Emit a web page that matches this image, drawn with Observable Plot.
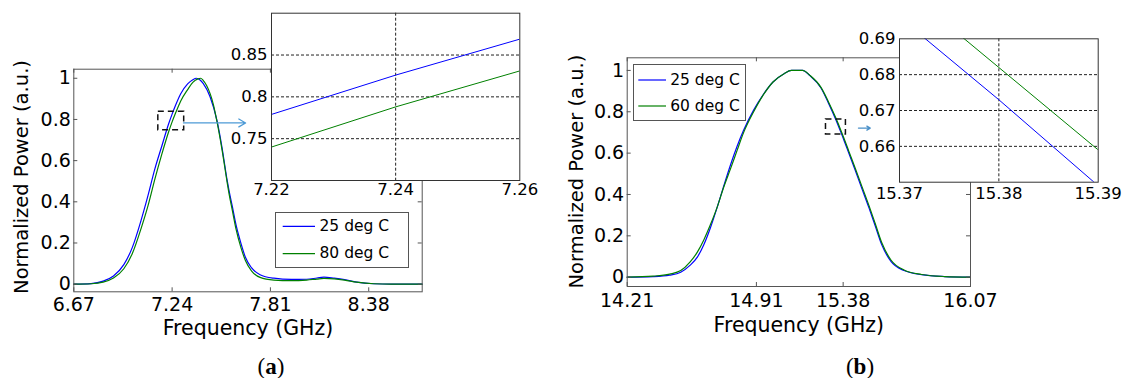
<!DOCTYPE html>
<html><head><meta charset="utf-8">
<script src="https://cdn.jsdelivr.net/npm/d3@7"></script>
<script src="https://cdn.jsdelivr.net/npm/@observablehq/plot@0.6"></script>
<style>
html,body{margin:0;padding:0;background:#fff;overflow:hidden}
#wrap{position:relative;width:1127px;height:378px;font-family:"DejaVu Sans",sans-serif;color:#000}
#wrap svg{position:absolute;left:0;top:0}
.legend{position:absolute;background:#fff;border:1.5px solid #555;box-sizing:border-box;font-size:15.5px}
.legend .row{position:absolute;left:0;white-space:nowrap}
.caption{position:absolute;font-family:"Liberation Serif",serif;font-size:23px;line-height:1;transform:translateX(-50%)}
</style></head><body><div id="wrap"></div>
<script>
// ---------- data: panel (a) ----------
const freqA25 = [6.67,6.77,6.84,6.90,6.96,7.01,7.06,7.10,7.14,7.18,7.22,7.24,7.26,7.29,7.33,7.36,7.38,7.40,7.42,7.46,7.50,7.53,7.56,7.57,7.59,7.61,7.64,7.665,7.70,7.75,7.83,7.93,8.02,8.08,8.12,8.18,8.24,8.31,8.41,8.51,8.69];
const powA25  = [0,0.003,0.015,0.04,0.095,0.18,0.31,0.43,0.56,0.67,0.779,0.826,0.869,0.925,0.973,0.993,1.0,0.993,0.975,0.91,0.795,0.66,0.50,0.455,0.374,0.29,0.196,0.131,0.08,0.046,0.029,0.023,0.024,0.03,0.034,0.029,0.022,0.01,0.002,0,0];
const freqA80 = [6.67,6.77,6.84,6.90,6.96,7.01,7.06,7.10,7.14,7.18,7.22,7.24,7.26,7.29,7.33,7.36,7.39,7.405,7.42,7.44,7.48,7.50,7.53,7.56,7.57,7.59,7.61,7.64,7.665,7.70,7.75,7.83,7.93,8.02,8.08,8.12,8.18,8.24,8.31,8.41,8.51,8.69];
const powA80  = [0,0.002,0.01,0.03,0.075,0.15,0.27,0.38,0.51,0.63,0.74,0.788,0.831,0.89,0.945,0.98,0.997,1.0,0.99,0.965,0.87,0.79,0.65,0.49,0.44,0.355,0.27,0.175,0.115,0.065,0.033,0.02,0.017,0.02,0.025,0.028,0.026,0.02,0.01,0.002,0,0];
const xTicksA = [6.67,7.24,7.81,8.38];
const yTicksMain = [0,0.2,0.4,0.6,0.8,1];
const insetXTicksA = [7.22,7.24,7.26];
const insetYTicksA = [0.75,0.8,0.85];
const legendA = ["25 deg C","80 deg C"];
const zoomBoxA = [{x1:7.16,x2:7.31,y1:0.747,y2:0.837}];
const zoomArrowA = [{x1:7.306,x2:7.666,y:0.783}];

// ---------- data: panel (b) ----------
const freqB = [14.21,14.35,14.44,14.50,14.55,14.59,14.625,14.66,14.70,14.73,14.77,14.805,14.84,14.895,14.95,15.00,15.06,15.10,15.16,15.20,15.26,15.30,15.34,15.37,15.38,15.39,15.41,15.445,15.48,15.52,15.555,15.59,15.64,15.71,15.805,15.93,16.07];
const powB25 = [0,0.003,0.01,0.024,0.057,0.097,0.157,0.237,0.345,0.432,0.544,0.632,0.709,0.808,0.887,0.944,0.984,1.0,1.0,0.975,0.915,0.843,0.763,0.696,0.673,0.649,0.602,0.518,0.432,0.335,0.245,0.155,0.075,0.032,0.012,0.003,0];
const powB60 = [0,0.005,0.015,0.032,0.073,0.121,0.18,0.252,0.345,0.428,0.525,0.612,0.698,0.80,0.885,0.944,0.984,1.0,1.0,0.976,0.918,0.849,0.771,0.705,0.682,0.659,0.611,0.528,0.443,0.346,0.256,0.165,0.082,0.035,0.013,0.003,0];
const xTicksB = [14.21,14.91,15.38,16.07];
const insetXTicksB = [15.37,15.38,15.39];
const insetYTicksB = [0.66,0.67,0.68,0.69];
const legendB = ["25 deg C","60 deg C"];
const zoomBoxB = [{x1:15.287,x2:15.395,y1:0.690,y2:0.763}];
const zoomArrowB = [{x1:15.463,x2:15.527,y:0.721}];

const xLabel = "Frequency (GHz)";
const yLabel = "Normalized Power (a.u.)";
const captions = ["a","b"];
const BLUE = "#0000ff", GREEN = "#008000";

const rows = (fs, ps) => fs.map((f, i) => ({f, p: ps[i]}));
const sA25 = rows(freqA25, powA25), sA80 = rows(freqA80, powA80);
const sB25 = rows(freqB, powB25), sB60 = rows(freqB, powB60);

const W = 1127, H = 378;
const wrap = document.getElementById("wrap");
const FONT = "DejaVu Sans";

function mainPlot(c) {
  const [l, t, r, b] = c.frame;
  const iw = r - l, ih = b - t;
  return Plot.plot({
    width: W, height: H,
    marginLeft: l, marginRight: W - r, marginTop: t, marginBottom: H - b,
    x: {domain: c.xDomain}, y: {domain: c.yDomain},
    style: {background: "transparent", fontFamily: FONT, overflow: "visible"},
    marks: [
      Plot.line(c.s1, {x: "f", y: "p", stroke: BLUE, strokeWidth: 1.2, curve: "monotone-x"}),
      Plot.line(c.s2, {x: "f", y: "p", stroke: GREEN, strokeWidth: 1.2, curve: "monotone-x"}),
      Plot.frame({stroke: "#555", strokeWidth: 1}),
      Plot.tickX(c.xTicks, {x: d => d, insetTop: ih - 4, stroke: "#555"}),
      Plot.tickX(c.xTicks, {x: d => d, insetBottom: ih - 4, stroke: "#555"}),
      Plot.tickY(yTicksMain, {y: d => d, insetRight: iw - 4, stroke: "#555"}),
      Plot.tickY(yTicksMain, {y: d => d, insetLeft: iw - 4, stroke: "#555"}),
      Plot.axisX({ticks: c.xTicks, label: null, tickSize: 0, tickPadding: c.xPad, fontSize: 19, tickFormat: String, fill: "#000"}),
      Plot.axisY({ticks: yTicksMain, label: null, tickSize: 0, tickPadding: 3, fontSize: 19, tickFormat: String, fill: "#000"}),
      Plot.rect(c.box, {x1: "x1", x2: "x2", y1: "y1", y2: "y2", fill: "none", stroke: "#111", strokeWidth: 1.5, strokeDasharray: "6,4"}),
      Plot.arrow(c.arrow, {x1: "x1", x2: "x2", y1: "y", y2: "y", stroke: c.arrowColor, strokeWidth: 1.3, headLength: c.head}),
      Plot.text([xLabel], {text: d => d, frameAnchor: "bottom", textAnchor: "middle", lineAnchor: "top", dy: c.xLabDy, fontSize: 20.5, fill: "#000"}),
      Plot.text([yLabel], {text: d => d, frameAnchor: "left", textAnchor: "middle", lineAnchor: "middle", rotate: -90, dx: c.yLabDx, dy: c.yLabDy, fontSize: 19.5, fill: "#000"})
    ]
  });
}

function insetPlot(c) {
  const [l, t, r, b] = c.frame;
  return Plot.plot({
    width: W, height: H,
    marginLeft: l, marginRight: W - r, marginTop: t, marginBottom: H - b,
    x: {domain: c.xDomain}, y: {domain: c.yDomain},
    style: {background: "transparent", fontFamily: FONT, overflow: "visible"},
    marks: [
      Plot.frame({fill: "white", stroke: "none"}),
      Plot.ruleX(c.gridX, {x: d => d, stroke: "#222", strokeDasharray: "3,2"}),
      Plot.ruleY(c.gridY, {y: d => d, stroke: "#222", strokeDasharray: "3,2"}),
      Plot.line(c.s1, {x: "f", y: "p", stroke: BLUE, strokeWidth: 1, clip: true}),
      Plot.line(c.s2, {x: "f", y: "p", stroke: GREEN, strokeWidth: 1, clip: true}),
      Plot.frame({stroke: "#333", strokeWidth: 1}),
      Plot.axisX({ticks: c.xTicks, label: null, tickSize: 0, tickPadding: c.xPad, fontSize: 16.5, tickFormat: String, fill: "#000"}),
      Plot.axisY({ticks: c.yTicks, label: null, tickSize: 0, tickPadding: 4, fontSize: 16.5, tickFormat: String, fill: "#000"})
    ]
  });
}

wrap.append(mainPlot({
  frame: [73.3, 68.7, 421.7, 291.3], xDomain: [6.67, 8.69], yDomain: [-0.037, 1.044],
  s1: sA25, s2: sA80, xTicks: xTicksA, xPad: 6, box: zoomBoxA, arrow: zoomArrowA,
  arrowColor: "#4d9ad6", head: 9, xLabDy: 28.7, yLabDx: -51.6, yLabDy: -3.5
}));
wrap.append(mainPlot({
  frame: [626.7, 57.3, 970, 286], xDomain: [14.21, 16.07], yDomain: [-0.045, 1.061],
  s1: sB25, s2: sB60, xTicks: xTicksB, xPad: 7, box: zoomBoxB, arrow: zoomArrowB,
  arrowColor: "#4a90c8", head: 7, xLabDy: 30.7, yLabDx: -50.9, yLabDy: -0.6
}));
wrap.append(insetPlot({
  frame: [271, 12.7, 519.3, 180], xDomain: [7.22, 7.26], yDomain: [0.7, 0.9],
  s1: sA25, s2: sA80, xTicks: insetXTicksA, yTicks: insetYTicksA, xPad: 3,
  gridX: [7.24], gridY: insetYTicksA
}));
wrap.append(insetPlot({
  frame: [899, 38.3, 1097.7, 181.7], xDomain: [15.37, 15.39], yDomain: [0.65, 0.69],
  s1: sB25, s2: sB60, xTicks: insetXTicksB, yTicks: insetYTicksB, xPad: 5,
  gridX: [15.38], gridY: [0.66, 0.67, 0.68]
}));

function legend(labels, box, rowsY, lineX, textX) {
  const d = document.createElement("div");
  d.className = "legend";
  d.style.left = box[0] + "px"; d.style.top = box[1] + "px";
  d.style.width = box[2] + "px"; d.style.height = box[3] + "px";
  const colors = [BLUE, GREEN];
  labels.forEach((lab, i) => {
    const svgNS = "http://www.w3.org/2000/svg";
    const s = document.createElementNS(svgNS, "svg");
    s.setAttribute("width", box[2]); s.setAttribute("height", box[3]);
    s.style.position = "absolute"; s.style.left = "-1.5px"; s.style.top = "-1.5px";
    const ln = document.createElementNS(svgNS, "line");
    ln.setAttribute("x1", lineX[0]); ln.setAttribute("x2", lineX[1]);
    ln.setAttribute("y1", rowsY[i]); ln.setAttribute("y2", rowsY[i]);
    ln.setAttribute("stroke", colors[i]); ln.setAttribute("stroke-width", 1.2);
    s.append(ln);
    d.append(s);
    const t = document.createElement("div");
    t.className = "row"; t.textContent = lab;
    t.style.left = (textX - 1.5) + "px"; t.style.top = (rowsY[i] - 1.5 - 10) + "px";
    t.style.lineHeight = "20px";
    d.append(t);
  });
  wrap.append(d);
}
legend(legendA, [275, 212.3, 134.3, 55.4], [14.4, 41.7], [7.7, 40], 45);
legend(legendB, [632.7, 64, 113.3, 57], [16, 42], [6.3, 34], 38);

[[271, captions[0]], [860, captions[1]]].forEach(([x, c]) => {
  const d = document.createElement("div");
  d.className = "caption";
  d.style.left = x + "px"; d.style.top = "355px";
  d.append("(");
  const bEl = document.createElement("b"); bEl.textContent = c; d.append(bEl);
  d.append(")");
  wrap.append(d);
});
</script>
</body></html>
